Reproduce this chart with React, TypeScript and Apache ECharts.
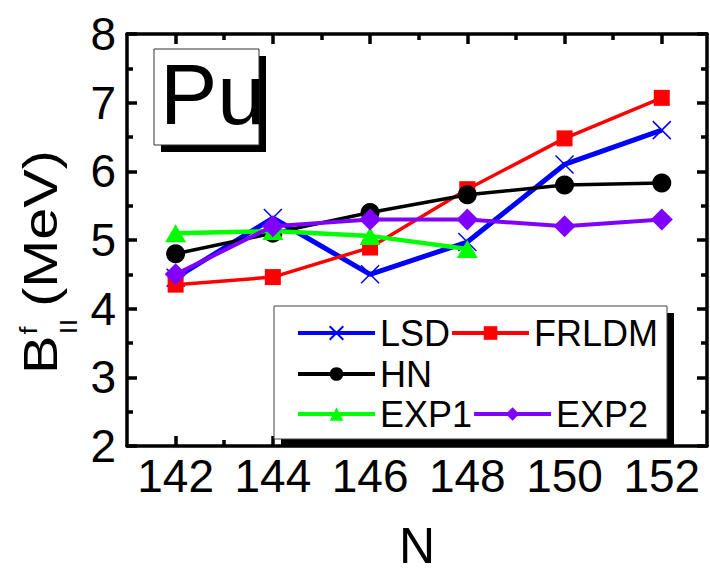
import React, { useEffect, useRef } from "react";
import * as echarts from "echarts";

const FONT = "'Liberation Sans', Arial, sans-serif";

// Neutron numbers N and second-barrier heights (MeV) for Pu isotopes
const neutrons = [142, 144, 146, 148, 150, 152];
const lsd = [4.45, 5.32, 4.5, 4.97, 6.1, 6.6];
const frldm = [4.35, 4.46, 4.89, 5.74, 6.48, 7.07];
const hn = [4.8, 5.1, 5.4, 5.66, 5.8, 5.83];
const exp1 = [5.1, 5.13, 5.06, 4.87];
const exp2 = [4.5, 5.2, 5.3, 5.3, 5.2, 5.3];

const xMajorTicks = [142, 144, 146, 148, 150, 152];
const xMinorTicks = [143, 145, 147, 149, 151];

const pairs = (vals: number[]) => vals.map((v, i) => [neutrons[i], v]);

const BLACK = "#000";
const axisLineStyle = { show: true, lineStyle: { color: BLACK, width: 3.5 } };
const tickLine = { color: BLACK, width: 3.5 };
const X_MIN = 141;
const X_MAX = 152.93;

export default function App() {
  const ref = useRef<HTMLDivElement>(null);

  useEffect(() => {
    if (!ref.current) return;
    const chart = echarts.init(ref.current, null, { renderer: "svg" });

    const legendBase = {
      orient: "horizontal",
      itemGap: 0,
      itemWidth: 77,
      itemHeight: 17,
      padding: 0,
      selectedMode: false,
      left: 296,
      z: 10,
      lineStyle: { width: 4 },
      textStyle: { fontSize: 36, fontFamily: FONT, color: BLACK },
    };

    const plainX = (position: string, ticks: number[], len: number) => ({
      type: "value",
      min: X_MIN,
      max: X_MAX,
      position,
      axisLine: { show: false },
      axisTick: { show: true, inside: true, length: len, lineStyle: tickLine, customValues: ticks },
      axisLabel: { show: false },
      splitLine: { show: false },
    });

    chart.setOption({
      animation: false,
      backgroundColor: "#fff",
      grid: { left: 127, right: 3, top: 34, bottom: 122, containLabel: false },
      xAxis: [
        {
          type: "value",
          min: X_MIN,
          max: X_MAX,
          position: "bottom",
          axisLine: axisLineStyle,
          axisTick: { show: true, inside: true, length: 10, lineStyle: tickLine, customValues: xMajorTicks },
          axisLabel: {
            customValues: xMajorTicks,
            fontSize: 46,
            fontFamily: FONT,
            color: BLACK,
            margin: 7,
          },
          splitLine: { show: false },
          name: "N",
          nameLocation: "middle",
          nameGap: 75,
          nameTextStyle: { fontSize: 50, fontFamily: FONT, color: BLACK },
        },
        plainX("bottom", xMinorTicks, 6),
        { ...plainX("top", xMajorTicks, 10), axisLine: axisLineStyle },
        plainX("top", xMinorTicks, 6),
      ],
      yAxis: [
        {
          type: "value",
          min: 2,
          max: 8,
          interval: 1,
          position: "left",
          axisLine: axisLineStyle,
          axisTick: { show: true, inside: true, length: 10, lineStyle: tickLine },
          minorTick: { show: true, splitNumber: 2, length: 6, lineStyle: tickLine },
          axisLabel: { fontSize: 46, fontFamily: FONT, color: BLACK, margin: 11 },
          splitLine: { show: false },
          minorSplitLine: { show: false },
        },
        {
          type: "value",
          min: 2,
          max: 8,
          interval: 1,
          position: "right",
          axisLine: axisLineStyle,
          axisTick: { show: true, inside: true, length: 10, lineStyle: tickLine },
          minorTick: { show: true, splitNumber: 2, length: 6, lineStyle: tickLine },
          axisLabel: { show: false },
          splitLine: { show: false },
          minorSplitLine: { show: false },
        },
      ],
      legend: [
        { ...legendBase, data: ["LSD", "FRLDM"], top: 315 },
        { ...legendBase, data: ["HN"], top: 356 },
        { ...legendBase, data: ["EXP1", "EXP2"], top: 396 },
      ],
      series: [
        {
          name: "LSD",
          type: "line",
          data: pairs(lsd),
          symbol: "path://M0,0L10,10M10,0L0,10",
          symbolSize: 18,
          lineStyle: { color: "#0000ff", width: 5 },
          itemStyle: { color: "#0000ff", borderColor: "#0000ff", borderWidth: 1.5 },
          z: 2,
        },
        {
          name: "FRLDM",
          type: "line",
          data: pairs(frldm),
          symbol: "rect",
          symbolSize: 16,
          lineStyle: { color: "#ff0000", width: 3.5 },
          itemStyle: { color: "#ff0000" },
          z: 3,
        },
        {
          name: "HN",
          type: "line",
          data: pairs(hn),
          symbol: "circle",
          symbolSize: 19,
          lineStyle: { color: BLACK, width: 3.5 },
          itemStyle: { color: BLACK },
          z: 4,
        },
        {
          name: "EXP1",
          type: "line",
          data: pairs(exp1),
          symbol: "triangle",
          symbolSize: [21, 18],
          lineStyle: { color: "#00ff00", width: 4.5 },
          itemStyle: { color: "#00ff00" },
          z: 5,
        },
        {
          name: "EXP2",
          type: "line",
          data: pairs(exp2),
          symbol: "diamond",
          symbolSize: 22,
          lineStyle: { color: "#8000ff", width: 4 },
          itemStyle: { color: "#8000ff" },
          z: 6,
        },
      ],
      graphic: [
        // element label box with drop shadow
        { type: "rect", z: 8, shape: { x: 161, y: 56, width: 105, height: 96 }, style: { fill: BLACK } },
        {
          type: "rect",
          z: 9,
          shape: { x: 154, y: 49, width: 105, height: 96 },
          style: { fill: "#fff", stroke: "#333", lineWidth: 1 },
        },
        {
          type: "text",
          z: 10,
          x: 160,
          y: 94,
          style: { text: "Pu", font: `86px ${FONT}`, fill: BLACK, verticalAlign: "middle" },
        },
        // legend frame with drop shadow
        { type: "rect", z: 8, shape: { x: 281, y: 313, width: 393, height: 133 }, style: { fill: BLACK } },
        {
          type: "rect",
          z: 9,
          shape: { x: 274, y: 306, width: 393, height: 133 },
          style: { fill: "#fff", stroke: "#444", lineWidth: 1 },
        },
        // y-axis title B^f_II (MeV), read bottom to top
        {
          type: "group",
          x: 57,
          y: 374,
          rotation: Math.PI / 2,
          scaleX: 1.2,
          children: [
            { type: "text", x: 0, y: -17, style: { text: "B", font: `48px ${FONT}`, fill: BLACK, verticalAlign: "middle" } },
            { type: "text", x: 33, y: -28, style: { text: "f", font: `24px ${FONT}`, fill: BLACK, verticalAlign: "middle" } },
            { type: "text", x: 33, y: 12, style: { text: "II", font: `24px ${FONT}`, fill: BLACK, verticalAlign: "middle" } },
            { type: "text", x: 56, y: -17, style: { text: "(MeV)", font: `48px ${FONT}`, fill: BLACK, verticalAlign: "middle" } },
          ],
        },
      ],
    });

    return () => chart.dispose();
  }, []);

  return (
    <div
      ref={ref}
      style={{ position: "fixed", left: 0, top: 0, width: 710, height: 576, background: "#fff" }}
    />
  );
}
